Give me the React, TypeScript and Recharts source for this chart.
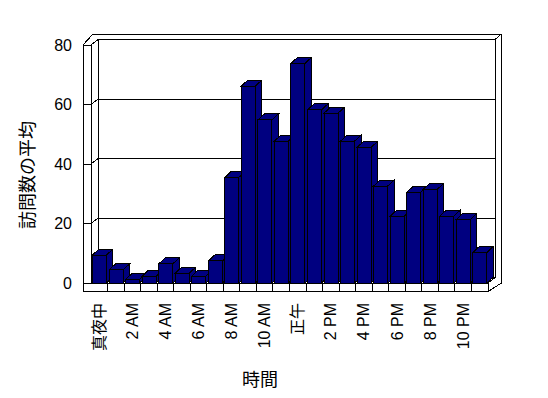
import { BarChart, Bar, XAxis, YAxis } from 'recharts'

const hours = [
  '真夜中', '1 AM', '2 AM', '3 AM', '4 AM', '5 AM', '6 AM', '7 AM', '8 AM', '9 AM', '10 AM', '11 AM',
  '正午', '1 PM', '2 PM', '3 PM', '4 PM', '5 PM', '6 PM', '7 PM', '8 PM', '9 PM', '10 PM', '11 PM',
]
const visits = [
  9.4, 4.4, 1.2, 2.3, 6.4, 3.3, 2.3, 7.4, 35.5, 66.2, 54.8, 47.7,
  73.8, 58.2, 57.1, 47.7, 45.6, 32.6, 22.5, 30.5, 31.5, 22.5, 21.4, 10.3,
]
const yTicks = [0, 20, 40, 60, 80]
const xTitle = '時間'
const yTitle = '訪問数の平均'

const data = hours.map((hour, i) => ({ hour, visits: visits[i] }))

// plot box (front face) and 3d offsets
const W = 548, H = 398
const L = 91, R = 488, T = 45, B = 283
const DX = 7, DY = 5.5
const OUT_L = 83, OUT_R = 501.5, OUT_T = 34, OUT_B = 291.5
const font = '"Liberation Sans", "Noto Sans CJK JP", sans-serif'

const fy = (v: number) => B - (v / yTicks[yTicks.length - 1]) * (B - T)

function Frame() {
  const bl = L + DX, br = R + DX
  return (
    <g stroke="#000" strokeWidth={1} fill="none" shapeRendering="crispEdges">
      {yTicks.map(v => {
        const y = fy(v)
        return (
          <g key={v}>
            <line x1={bl} y1={y - DY} x2={br} y2={y - DY} />
            <line x1={L} y1={y} x2={bl} y2={y - DY} />
            <line x1={OUT_L} y1={y} x2={L} y2={y} />
          </g>
        )
      })}
      <line x1={bl} y1={T - DY} x2={bl} y2={B - DY} />
      <line x1={br} y1={T - DY} x2={br} y2={B - DY} />
      <line x1={OUT_L + 10} y1={OUT_T} x2={OUT_R} y2={OUT_T} />
      <line x1={br} y1={T - DY} x2={OUT_R} y2={OUT_T} />
      <line x1={OUT_R} y1={OUT_T} x2={OUT_R} y2={B} />
      <line x1={OUT_L} y1={T} x2={OUT_L + 10} y2={OUT_T} />
      <line x1={OUT_L} y1={T} x2={L} y2={T} />
      <line x1={OUT_L} y1={T} x2={OUT_L} y2={OUT_B} />
      <line x1={L} y1={T} x2={L} y2={B} />
      <line x1={L} y1={B} x2={R} y2={B} />
      <line x1={OUT_L} y1={OUT_B} x2={R} y2={OUT_B} />
      <line x1={R} y1={B} x2={R} y2={OUT_B} />
      <line x1={R} y1={B} x2={br} y2={B - DY} />
      <line x1={R} y1={OUT_B} x2={OUT_R} y2={B} />
    </g>
  )
}

function Titles() {
  return (
    <g fill="#000" fontFamily={font} fontSize={18}>
      <text x={260} y={380} textAnchor="middle" dominantBaseline="central">{xTitle}</text>
      <text transform="translate(28,175) rotate(-90)" textAnchor="middle" dominantBaseline="central">{yTitle}</text>
    </g>
  )
}

function Box(props: any) {
  const { x, y, width, height } = props
  if (height == null || width == null) return null
  const dx = 6.5, dy = 6
  return (
    <g stroke="#000" strokeWidth={1} fill="#000080" shapeRendering="crispEdges">
      <polygon points={`${x},${y} ${x + dx},${y - dy} ${x + width + dx},${y - dy} ${x + width},${y}`} />
      <polygon points={`${x + width},${y} ${x + width + dx},${y - dy} ${x + width + dx},${y + height - dy} ${x + width},${y + height}`} />
      <rect x={x} y={y} width={width} height={height} />
    </g>
  )
}

function XTick(props: any) {
  const { x, payload } = props
  const i = hours.indexOf(payload.value)
  const bw = (R - L) / hours.length
  const left = x - bw / 2
  return (
    <g>
      {i > 0 && <line x1={left} y1={B} x2={left} y2={OUT_B} stroke="#000" shapeRendering="crispEdges" />}
      {i % 2 === 0 && (
        <text
          transform={`translate(${x + 5.5},303) rotate(-90)`}
          textAnchor="end"
          fontSize={16}
          fontFamily={font}
          fill="#000"
        >
          {payload.value}
        </text>
      )}
    </g>
  )
}

export default function App() {
  return (
    <div style={{ position: 'absolute', left: 0, top: 0, background: '#fff' }}>
      <BarChart
        width={W}
        height={H}
        data={data}
        margin={{ top: T, right: W - R, left: 0, bottom: 35 }}
        barCategoryGap="9%"
      >
        <Frame />
        <Titles />
        <XAxis dataKey="hour" interval={0} tickLine={false} axisLine={false} height={H - B - 35} tick={XTick} />
        <YAxis
          domain={[0, 80]}
          ticks={yTicks}
          width={L}
          tickLine={false}
          axisLine={false}
          tickMargin={13}
          tick={{ fill: '#000', fontSize: 16, fontFamily: font }}
        />
        <Bar dataKey="visits" shape={Box} isAnimationActive={false} />
      </BarChart>
    </div>
  )
}
